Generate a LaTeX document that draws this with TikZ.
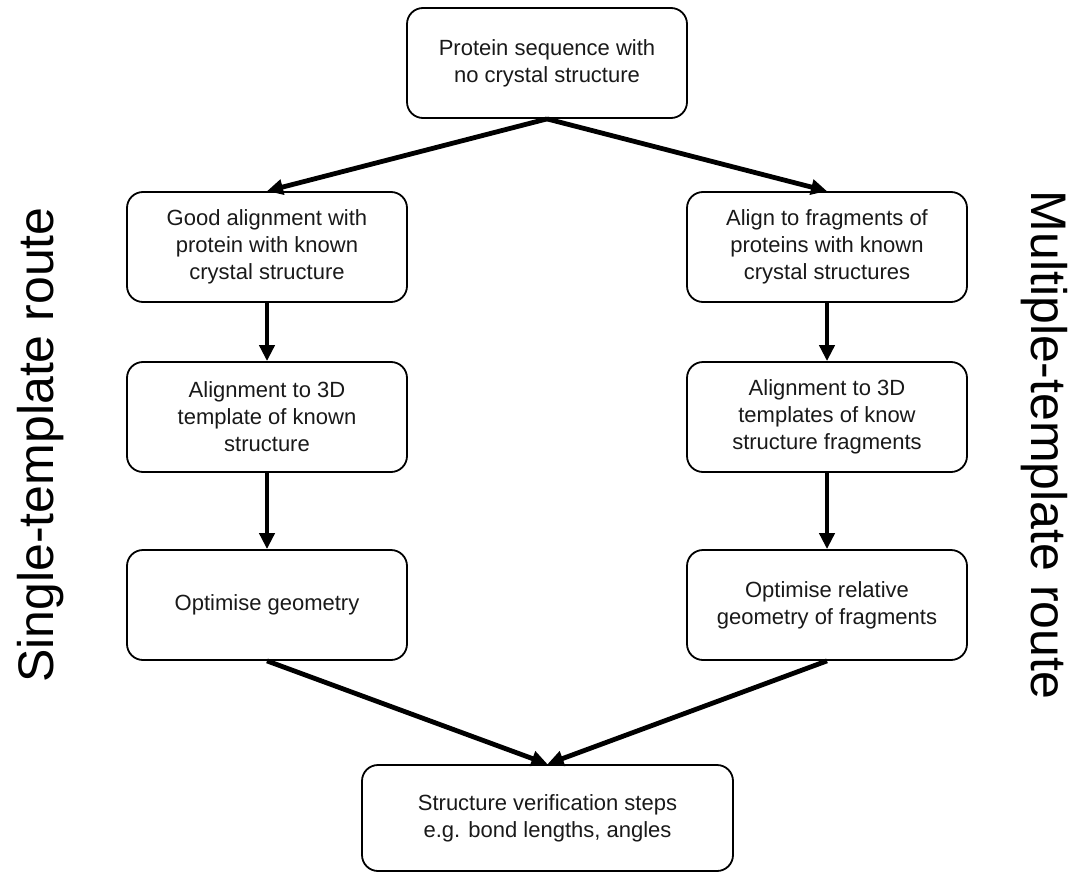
\documentclass[tikz,border=0pt]{standalone}
\usepackage{fontspec}
\setmainfont{Liberation Sans}
\usetikzlibrary{arrows.meta}
\begin{document}
\begin{tikzpicture}[x=1pt,y=-1pt,
  stepbox/.style={draw=black,line width=1.8pt,rounded corners=16pt,minimum width=280pt,minimum height=110pt,align=center,inner sep=0pt,font=\fontsize{22}{27}\selectfont,text=black!90},
  flow/.style={line width=4.8pt,-{Triangle[length=16pt,width=15pt]}},
  side/.style={font=\fontsize{50}{54}\selectfont,anchor=base}]
\useasboundingbox (0,0) rectangle (1084,872);
\node[stepbox] (top) at (547,63) {Protein sequence with\\no crystal structure};
\node[stepbox] (l1) at (267,247) {Good alignment with\\protein with known\\crystal structure};
\node[stepbox] (r1) at (827,247) {Align to fragments of\\proteins with known\\crystal structures};
\node[stepbox] (l2) at (267,417) {Alignment to 3D\\template of known\\structure};
\node[stepbox] (r2) at (827,417) {Alignment to 3D\\templates of know\\structure fragments};
\node[stepbox] (l3) at (267,605) {Optimise geometry};
\node[stepbox] (r3) at (827,605) {Optimise relative\\geometry of fragments};
\node[stepbox,minimum width=371pt,minimum height=106pt] (bot) at (547.5,818) {Structure verification steps\\e.g. bond lengths, angles};
\node[side,rotate=90] (ls) at (53,445) {Single-template route};
\node[side,rotate=-90] (rs) at (1031,445) {Multiple-template route};
\draw[flow] (top.south) -- (l1.north);
\draw[flow] (top.south) -- (r1.north);
\draw[flow] (l1.south) -- (l2.north);
\draw[flow] (r1.south) -- (r2.north);
\draw[flow] (l2.south) -- (l3.north);
\draw[flow] (r2.south) -- (r3.north);
\draw[flow] (l3.south) -- (bot.north);
\draw[flow] (r3.south) -- (bot.north);
\end{tikzpicture}
\end{document}
